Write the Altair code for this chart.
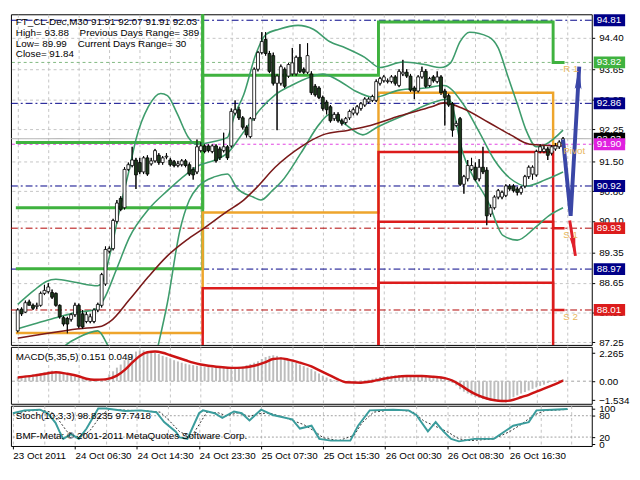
import json
import altair as alt
import pandas as pd

FONT = "Liberation Sans"
W = 592
H_MAIN = 337
H_MACD = 58
H_STO = 41

# ---------------- data ----------------
bar_open = [87.52,88.03,87.96,88.20,88.12,88.09,88.12,88.40,88.44,88.42,
            88.40,88.12,87.83,87.81,87.79,87.90,88.12,87.92,87.74,87.74,
            87.74,88.01,88.12,88.62,89.39,89.45,90.09,90.63,90.41,91.31,
            91.40,91.53,91.47,91.25,91.58,91.44,91.51,91.64,91.47,91.60,
            91.53,91.49,91.40,91.42,91.51,91.42,91.31,91.25,91.75,91.86,
            91.86,91.73,91.86,91.79,91.75,91.84,91.86,92.63,92.71,92.52,
            92.30,92.08,92.50,93.66,94.05,94.36,94.03,93.98,93.33,93.33,
            93.66,93.50,93.55,93.55,93.94,93.66,93.59,93.55,93.26,93.22,
            93.00,92.89,92.78,92.50,92.60,92.45,92.41,92.52,92.63,92.63,
            92.74,92.82,92.89,92.93,92.93,93.33,93.39,93.37,93.37,93.48,
            93.28,93.55,93.59,93.50,93.22,93.15,93.48,93.61,93.28,93.48,
            93.37,93.48,93.15,93.04,92.85,92.34,92.50,90.96,91.09,91.31,
            91.36,91.09,91.36,91.29,90.26,90.41,90.66,90.66,90.70,90.92,
            90.92,90.85,90.77,90.92,91.14,91.20,91.18,91.73,91.73,91.79,
            91.69,91.79,91.84,91.91]
bar_high = [88.05,88.07,88.23,88.25,88.16,88.18,88.44,88.60,88.64,88.49,
            88.42,88.14,87.87,87.85,87.94,88.18,88.16,88.01,87.96,87.92,
            88.05,88.18,88.88,89.50,89.50,90.15,90.59,90.68,91.36,91.47,
            91.84,91.58,91.58,91.62,91.64,91.58,91.79,91.69,91.62,91.69,
            91.58,91.53,91.51,91.55,91.55,91.47,91.36,92.01,91.95,91.90,
            91.90,91.90,91.90,91.84,92.17,91.88,92.74,92.93,92.78,92.56,
            92.34,92.54,93.70,94.09,94.53,94.53,94.09,94.05,93.55,93.77,
            93.70,93.81,94.16,93.98,94.25,93.70,94.27,93.61,93.31,93.26,
            93.04,92.93,92.82,92.65,92.65,92.50,92.54,92.71,92.76,92.82,
            92.89,93.00,93.00,93.06,93.42,93.48,93.52,93.44,93.52,93.52,
            93.66,93.88,93.66,93.55,93.26,93.52,93.72,93.66,93.48,93.52,
            93.61,93.52,93.20,93.09,92.89,92.45,92.54,91.18,91.53,91.58,
            91.47,91.55,91.84,91.36,90.48,90.70,90.85,90.81,90.96,90.96,
            90.96,90.90,90.92,91.18,91.40,91.40,91.77,91.90,91.86,91.84,
            91.88,91.93,91.99,92.07]
bar_low = [87.48,87.87,87.94,88.12,88.01,88.03,88.09,88.36,88.40,88.27,
           88.09,87.81,87.63,87.46,87.74,87.85,87.59,87.57,87.70,87.70,
           87.70,87.96,88.07,88.58,89.34,89.41,90.04,90.33,90.37,91.27,
           91.36,90.85,91.20,91.20,91.16,91.40,91.47,91.42,91.42,91.55,
           91.38,91.36,91.36,91.38,91.36,91.16,91.07,91.20,91.71,91.69,
           91.71,91.69,91.47,91.53,91.71,91.53,91.82,92.58,92.47,92.25,
           92.06,92.04,92.45,93.61,94.01,93.98,93.57,93.28,92.23,93.28,
           93.22,93.46,93.50,93.50,93.57,93.55,93.55,93.06,93.02,92.96,
           92.69,92.60,92.41,92.45,92.41,92.34,92.36,92.47,92.58,92.58,
           92.69,92.78,92.85,92.89,92.89,93.28,93.35,93.33,93.33,93.28,
           93.24,93.50,93.46,93.13,92.96,93.11,93.44,93.22,93.24,93.35,
           93.33,93.06,92.34,92.78,92.08,92.30,90.92,90.74,91.03,91.27,
           91.03,91.03,91.20,90.00,90.20,90.37,90.61,90.61,90.66,90.81,
           90.77,90.70,90.72,90.87,91.09,91.07,91.14,91.69,91.69,91.53,
           91.64,91.75,91.79,91.91]
bar_close = [88.01,87.92,88.18,88.12,88.05,88.12,88.40,88.47,88.55,88.31,
             88.12,87.85,87.68,87.68,87.90,88.12,87.63,87.61,87.90,87.85,
             88.01,88.14,88.84,89.43,89.45,90.11,90.52,90.37,91.31,91.42,
             91.53,91.18,91.25,91.58,91.20,91.51,91.75,91.47,91.58,91.62,
             91.42,91.40,91.44,91.51,91.40,91.20,91.18,91.84,91.86,91.73,
             91.75,91.86,91.51,91.58,91.84,91.58,92.67,92.71,92.52,92.30,
             92.12,92.50,93.66,94.05,94.31,94.03,93.61,93.33,93.50,93.72,
             93.26,93.77,93.81,93.94,93.61,93.59,93.98,93.11,93.06,93.00,
             92.74,92.71,92.45,92.60,92.45,92.39,92.50,92.67,92.71,92.78,
             92.85,92.96,92.96,93.02,93.37,93.44,93.48,93.39,93.48,93.33,
             93.61,93.59,93.50,93.17,93.15,93.48,93.61,93.26,93.44,93.39,
             93.48,93.11,93.00,92.82,92.23,92.39,90.96,91.14,91.40,91.40,
             91.07,91.36,91.25,90.22,90.41,90.66,90.81,90.77,90.92,90.85,
             90.81,90.77,90.87,91.14,91.36,91.36,91.73,91.84,91.79,91.64,
             91.84,91.86,91.95,92.03]

x_tick_labels = ["23 Oct 2011", "24 Oct 06:30", "24 Oct 14:30", "24 Oct 23:30",
                 "25 Oct 07:30", "25 Oct 15:30", "26 Oct 00:30", "26 Oct 08:30",
                 "26 Oct 16:30"]
price_ticks = [94.40, 93.65, 92.95, 92.25, 91.50, 90.80, 90.10, 89.35, 88.65, 87.95, 87.25]

# Bollinger bands and moving average (bar index, price)
bbu_x = [0,4.25,7.5,10,15,21,22.25,24.25,26.75,29.25,31,34.25,37.5,39.25,41.75,44.75,46.75,51.75,55,56.75,
         59.25,62.5,65,68.5,73.5,77.5,81.75,86,91,95,101,106.75,111,113.5,116,118.5,123.5,126,128.5,131,
         133.5,136,138.5,143]
bbu_y = [88.14,88.47,88.68,88.73,88.66,88.58,88.68,89.34,90.37,91.31,92.01,92.78,93.09,93.04,92.63,92.06,91.90,91.97,92.06,92.56,
         93.06,94.03,94.47,94.60,94.69,94.60,94.31,94.16,93.94,93.70,93.83,93.77,93.70,93.81,94.31,94.53,94.42,94.16,93.50,92.85,
         92.19,91.84,91.90,92.23]
bbm_x = [0,4.25,9.25,16,20,22.5,26,29.25,34.25,39.25,44.25,47.5,51.75,55,59.25,63.5,67.5,71.75,76.75,80,
         84.25,88.5,93.5,100,106.75,111.75,116.75,121,125,129.25,133.5,138.5,143]
bbm_y = [87.57,87.68,87.81,87.96,88.01,88.25,88.99,89.71,90.37,90.81,91.20,91.40,91.53,91.69,92.19,92.71,93.06,93.28,93.48,93.55,
         93.39,93.15,93.00,93.17,93.22,93.28,92.85,92.19,91.53,91.09,90.92,91.07,91.25]
bbl_x = [0,8,14.5,21,23.5,26.75,30.5,34.25,36.75,39.25,42.5,45,47.5,51.75,55,57.5,61.75,63.75,66.75,69.25,
         74.25,79.25,81.75,85.5,90.5,94.25,101.75,109.25,113,116.75,123.5,127.25,131,135.5,139.25,143]
bbl_y = [87.00,86.95,87.30,87.52,87.20,86.54,85.99,86.21,87.15,88.18,89.87,90.59,90.92,91.14,91.20,90.87,90.66,90.59,90.81,91.03,
         91.69,92.39,92.60,92.39,92.12,92.30,92.60,92.89,92.96,91.69,90.52,89.76,89.65,89.93,90.22,90.41]
ma_x = [0,7.5,16,22,24.25,29.25,34.25,39.25,44.25,48.5,55,59.25,62.5,67.5,74.25,80,86.75,92.5,100,108.5,
        111.75,116.75,123.5,129.25,134.25,143]
ma_y = [87.35,87.46,87.57,87.63,87.74,88.25,88.79,89.28,89.65,89.91,90.33,90.59,90.87,91.36,91.84,92.12,92.23,92.34,92.56,92.78,
        92.87,92.74,92.41,92.12,91.90,91.86]

# daily pivot levels (one value per day)
day_start = [-0.5, 48.5, 94.6, 140.4]
day_end = 143.4
piv_P = [87.47, 90.30, 93.11, 91.90]
piv_R1 = [88.98, 93.52, 94.77, 93.82]
piv_R2 = [90.41, 95.30, 96.16, 95.79]
piv_R3 = [91.94, 98.52, 97.80, 97.70]
piv_S1 = [86.04, 88.52, 91.72, 89.93]
piv_S2 = [84.53, 85.30, 90.08, 88.01]
piv_S3 = [83.10, 83.52, 88.65, 86.03]

band_levels = [94.81, 92.86, 90.92, 88.97]
resist_level = [93.82]
pivot_level = [91.90]
support_levels = [89.93, 88.01]
last_price = [92.03]
level_names = ["R 1", "Pivot", "S 1", "S 2"]
level_name_values = [93.82, 91.90, 89.93, 88.01]

arrow_up_x = [143, 145, 147.25]
arrow_up_y = [92.01, 90.22, 93.72]
arrow_dn_x = [144.75, 146.25]
arrow_dn_y = [90.11, 89.28]

macd_hist = [0.35,0.40,0.45,0.50,0.55,0.60,0.65,0.72,0.80,0.85,
             0.82,0.75,0.68,0.60,0.48,0.38,0.30,0.24,0.18,0.15,
             0.15,0.16,0.18,0.25,0.55,0.80,1.10,1.35,1.70,1.95,
             2.20,2.40,2.50,2.50,2.45,2.40,2.30,2.20,2.05,1.95,
             1.85,1.70,1.60,1.50,1.42,1.35,1.30,1.25,1.20,1.18,
             1.15,1.12,1.10,1.08,1.06,1.05,1.05,1.08,1.12,1.20,
             1.30,1.40,1.50,1.62,1.80,1.95,2.05,2.10,2.05,1.95,
             1.82,1.72,1.60,1.48,1.35,1.22,1.10,0.98,0.80,0.62,
             0.45,0.30,0.18,0.08,0.02,-0.02,-0.05,-0.05,-0.03,0.00,
             0.04,0.08,0.12,0.20,0.28,0.34,0.38,0.42,0.45,0.48,
             0.50,0.50,0.50,0.48,0.47,0.45,0.43,0.40,0.38,0.35,
             0.30,0.25,0.18,0.05,-0.15,-0.35,-0.65,-0.85,-1.00,-1.15,
             -1.28,-1.36,-1.45,-1.52,-1.58,-1.60,-1.62,-1.60,-1.55,-1.45,
             -1.30,-1.15,-1.00,-0.88,-0.75,-0.62,-0.50,-0.38,-0.28,-0.15,
             -0.05,0.05,0.10,0.151]
sig_x = [0,4,8,10,13,16,18,20,23,26,28,30,32,34,36,38,40,42,44,46,48,50,53,56,59,62,65,67,69,71,
         74,77,79,82,84,86,90,93,96,99,102,106,109,112,114,116,118,120,122,124,126,128,130,132,134,136,138,140,142,143]
sig_y = [0.30,0.45,0.65,0.73,0.60,0.40,0.20,0.12,0.15,0.45,0.90,1.50,2.05,2.35,2.40,2.30,2.10,1.90,1.70,1.50,
         1.35,1.25,1.15,1.08,1.10,1.25,1.55,1.80,1.85,1.75,1.50,1.20,0.90,0.45,0.15,-0.08,-0.12,0.00,0.20,0.35,
         0.42,0.42,0.36,0.25,0.05,-0.30,-0.70,-1.05,-1.30,-1.48,-1.58,-1.60,-1.50,-1.30,-1.10,-0.85,-0.60,-0.35,-0.10,0.049]
stk_x = [0,3,7,9,11,12,13,15,17,19,22,24,29,33,37,39,42,43,45,48,49,52,54,57,59,61,64,67,72,74,
         77,79,82,87,89,92,98,102,104,107,109,111,113,115,119,124,129,133,135,139,143]
stk_y = [87,95,97,87,60,36,15,28,15,44,100,100,93,95,90,62,35,19,15,87,95,87,74,92,87,67,97,82,70,44,
         52,15,10,10,52,95,97,95,82,36,62,36,15,8,15,15,52,62,95,97,98.82]
std_x = [0,3,7,10,12,14,16,18,20,23,25,30,34,38,40,43,46,48,50,53,55,58,61,63,66,70,75,78,80,84,
         88,90,93,98,103,106,109,112,115,118,124,128,131,134,137,143]
std_y = [85,92,96,90,65,35,22,22,40,85,98,95,94,90,70,35,20,55,90,88,80,88,78,85,88,75,55,35,18,10,
         25,60,90,97,92,65,50,35,15,10,15,35,55,80,94,97.74]

# ---------------- styles ----------------
GREEN = "#3fb23f"
ORANGE = "#eea52c"
RED = "#dc1c1c"
NAVY = "#000088"
BB_COL = "#3e9c6c"
MA_COL = "#7a1a1a"
GRID = "#c4c4c4"

xscale = alt.Scale(domain=[-0.5, 149.25], nice=False, zero=False)
grid_vals = list(range(0, 145, 8))
plain_xaxis = alt.Axis(values=grid_vals, labels=False, ticks=False, domain=False, grid=True,
                       gridColor=GRID, gridDash=[3, 3], title=None, zindex=0)


def xenc(field, axis=plain_xaxis):
    return alt.X(field, type="quantitative", scale=xscale, axis=axis)


main_yscale = alt.Scale(domain=[87.19, 94.95], nice=False, zero=False)
main_yaxis = alt.Axis(orient="right", values=price_ticks, format=".2f", grid=True, gridColor=GRID,
                      gridDash=[3, 3], tickSize=3, tickColor="black", domain=False, labelFont=FONT,
                      labelFontSize=10, labelColor="black", labelPadding=4, labelOverlap=False,
                      labelBound=False, labelFlush=False, title=None, zindex=0)


def ym(field):
    return alt.Y(field, type="quantitative", scale=main_yscale, axis=main_yaxis)


def text_at(txt, x, y, color="black", size=10, align="left"):
    return alt.Chart(pd.DataFrame({"t": [txt]})).mark_text(
        align=align, baseline="middle", font=FONT, fontSize=size, color=color
    ).encode(x=alt.value(x), y=alt.value(y), text="t:N")


# ---------------- main panel ----------------
candles = pd.DataFrame({"i": list(range(len(bar_close))), "open": bar_open, "high": bar_high,
                        "low": bar_low, "close": bar_close})
candles["dir"] = ["up" if c >= o else "down" for o, c in zip(bar_open, bar_close)]

wicks = alt.Chart(candles).mark_rule(color="black", strokeWidth=1).encode(
    x=xenc("i"), y=ym("low"), y2="high")
bodies = alt.Chart(candles).mark_bar(size=3, stroke="black", strokeWidth=0.8).encode(
    x=xenc("i"), y=ym("open"), y2="close",
    fill=alt.Fill("dir:N", scale=alt.Scale(domain=["up", "down"], range=["white", "#1d3a1d"]), legend=None))


def step_df(series):
    rows = []
    for name, vals in series:
        for d, v in enumerate(vals):
            rows.append({"s": name, "i": day_start[d], "v": v, "o": d})
        rows.append({"s": name, "i": day_end, "v": vals[-1], "o": len(vals)})
    return pd.DataFrame(rows)


def step_layer(series, color, width):
    return alt.Chart(step_df(series)).mark_line(
        interpolate="step-after", clip=True, color=color, strokeWidth=width
    ).encode(x=xenc("i"), y=ym("v"), detail="s:N", order="o:Q")


greens = step_layer([("R1", piv_R1), ("R2", piv_R2), ("R3", piv_R3)], GREEN, 3)
oranges = step_layer([("P", piv_P)], ORANGE, 2.5)
reds = step_layer([("S1", piv_S1), ("S2", piv_S2), ("S3", piv_S3)], RED, 2.5)


def rule_layer(vals, color, dash, width=1):
    return alt.Chart(pd.DataFrame({"v": vals})).mark_rule(
        color=color, strokeDash=dash, strokeWidth=width).encode(y=ym("v"))


lvl_navy = rule_layer(band_levels, NAVY, [7, 3, 2, 3])
lvl_red = rule_layer(support_levels, "#b00000", [7, 3, 2, 3])
lvl_mag = rule_layer(pivot_level, "#e040e0", [3, 3])
lvl_green = rule_layer(resist_level, "#7fb87f", [3, 3])
lvl_last = rule_layer(last_price, "#a8a8a8", [1, 0])

bb_rows = ([{"b": "u", "i": a, "v": b} for a, b in zip(bbu_x, bbu_y)] +
           [{"b": "m", "i": a, "v": b} for a, b in zip(bbm_x, bbm_y)] +
           [{"b": "l", "i": a, "v": b} for a, b in zip(bbl_x, bbl_y)])
bbands = alt.Chart(pd.DataFrame(bb_rows)).mark_line(
    clip=True, color=BB_COL, strokeWidth=1.6, interpolate="monotone"
).encode(x=xenc("i"), y=ym("v"), detail="b:N")
ma_line = alt.Chart(pd.DataFrame({"i": ma_x, "v": ma_y})).mark_line(
    clip=True, color=MA_COL, strokeWidth=1.6, interpolate="monotone"
).encode(x=xenc("i"), y=ym("v"))

HEAD = "M0,0L0.3,2L0,1.6L-0.3,2Z"
up_df = pd.DataFrame({"i": arrow_up_x, "v": arrow_up_y, "o": list(range(len(arrow_up_x)))})
dn_df = pd.DataFrame({"i": arrow_dn_x, "v": arrow_dn_y, "o": list(range(len(arrow_dn_x)))})
arrow_up = alt.Chart(up_df).mark_line(color="#3a46a6", strokeWidth=4).encode(
    x=xenc("i"), y=ym("v"), order="o:Q")
arrow_up_head = alt.Chart(up_df.tail(1)).mark_point(
    shape=HEAD, filled=True, size=529, angle=3, color="#3a46a6", opacity=1).encode(x=xenc("i"), y=ym("v"))
arrow_dn = alt.Chart(dn_df).mark_line(color="#e0202a", strokeWidth=3).encode(
    x=xenc("i"), y=ym("v"), order="o:Q")
arrow_dn_head = alt.Chart(dn_df.tail(1)).mark_point(
    shape=HEAD, filled=True, size=400, angle=171, color="#e0202a", opacity=1).encode(x=xenc("i"), y=ym("v"))

name_df = pd.DataFrame({"n": level_names, "v": level_name_values})
level_texts = alt.Chart(name_df).mark_text(
    align="left", baseline="middle", dy=7, font=FONT, fontSize=10, color="#e8b860"
).encode(x=alt.value(W - 29), y=ym("v"), text="n:N")


def box_layers(vals, colors):
    layers = []
    for v, col in zip(vals, colors):
        df = pd.DataFrame({"v": [v], "lab": ["%.2f" % v]})
        layers.append(alt.Chart(df).mark_rect(yOffset=-6, y2Offset=6, color=col).encode(
            x=alt.value(W + 2), x2=alt.value(W + 34), y=ym("v"), y2="v"))
        layers.append(alt.Chart(df).mark_text(
            align="left", baseline="middle", font=FONT, fontSize=10, color="white"
        ).encode(x=alt.value(W + 5), y=ym("v"), text="lab:N"))
    return layers


box_list = box_layers(
    last_price + band_levels + resist_level + pivot_level + support_levels,
    ["#000000", NAVY, NAVY, NAVY, NAVY, GREEN, "#e020e0", RED, RED])

main_texts = [
    text_at("FT_CL-Dec,M30  91.91 92.07 91.91 92.03", 5, 8),
    text_at("High= 93.88", 5, 19),
    text_at("Previous Days Range= 389", 70, 19),
    text_at("Low= 89.99", 5, 30),
    text_at("Current Days Range= 30", 68, 30),
    text_at("Close= 91.84", 5, 41),
]

main = alt.layer(
    wicks, lvl_last, lvl_navy, lvl_red, lvl_mag, lvl_green,
    greens, oranges, reds, bbands, ma_line, wicks, bodies,
    arrow_up, arrow_up_head, arrow_dn, arrow_dn_head, level_texts,
    *box_list, *main_texts
).properties(width=W, height=H_MAIN)

# ---------------- MACD panel ----------------
macd_yscale = alt.Scale(domain=[-1.83, 2.78], nice=False, zero=False)
macd_yaxis = alt.Axis(orient="right", values=[2.265, 0, -1.534],
                      labelExpr="datum.value == 0 ? '0.00' : format(datum.value, '.3f')",
                      grid=False, tickSize=3, tickColor="black", domain=False, labelFont=FONT,
                      labelFontSize=10, labelColor="black", labelPadding=4, labelOverlap=False,
                      labelBound=False, labelFlush=False, title=None)


def ymacd(field):
    return alt.Y(field, type="quantitative", scale=macd_yscale, axis=macd_yaxis)


macd_df = pd.DataFrame({"i": list(range(len(macd_hist))), "h": macd_hist})
hist = alt.Chart(macd_df).mark_bar(size=2, color="#bdbdbd").encode(
    x=xenc("i"), y=ymacd("h"), y2=alt.datum(0))
zero_rule = alt.Chart(pd.DataFrame({"v": [0]})).mark_rule(
    color="#a0a0a0", strokeDash=[3, 3]).encode(y=ymacd("v"))
sig = alt.Chart(pd.DataFrame({"i": sig_x, "v": sig_y})).mark_line(
    color="#cc1414", strokeWidth=2.5, interpolate="monotone").encode(x=xenc("i"), y=ymacd("v"))
macd = alt.layer(zero_rule, hist, sig, text_at("MACD(5,35,5) 0.151 0.049", 5, 10)).properties(
    width=W, height=H_MACD)

# ---------------- Stochastic panel ----------------
label_expr = ("(datum.value % 16 == 0 && datum.value < 144) ? " + json.dumps(x_tick_labels) +
              "[datum.value / 16] : ''")
bottom_xaxis = alt.Axis(values=grid_vals, labelExpr=label_expr, labelAlign="left", labelPadding=2,
                        tickSize=3,
                        tickColor={"condition": {"test": "datum.value % 16 == 0 && datum.value < 144",
                                                 "value": "black"}, "value": "transparent"},
                        domain=False, grid=True, gridColor=GRID, gridDash=[3, 3], labelFont=FONT,
                        labelFontSize=10, labelColor="black", labelOverlap=False, labelBound=False,
                        labelFlush=False, title=None, zindex=0)
sto_yscale = alt.Scale(domain=[-5, 108], nice=False, zero=False)
sto_yaxis = alt.Axis(orient="right", values=[100, 80, 20, 0], grid=False, tickSize=3, tickColor="black",
                     domain=False, labelFont=FONT, labelFontSize=10, labelColor="black", labelPadding=4,
                     labelOverlap=False, labelBound=False, labelFlush=False, title=None)


def ysto(field):
    return alt.Y(field, type="quantitative", scale=sto_yscale, axis=sto_yaxis)


sto_levels = alt.Chart(pd.DataFrame({"v": [80, 20]})).mark_rule(
    color="#a0a0a0", strokeDash=[2, 2]).encode(y=ysto("v"))
stk = alt.Chart(pd.DataFrame({"i": stk_x, "v": stk_y})).mark_line(
    color="#3a9c9c", strokeWidth=2).encode(x=xenc("i", bottom_xaxis), y=ysto("v"))
std = alt.Chart(pd.DataFrame({"i": std_x, "v": std_y})).mark_line(
    color="#303030", strokeWidth=1, strokeDash=[2, 2]).encode(x=xenc("i", bottom_xaxis), y=ysto("v"))
sto = alt.layer(
    sto_levels, std, stk,
    text_at("Stoch(10,3,3) 98.8235 97.7418", 5, 11),
    text_at("BMF-Meta: \u00a9 2001-2011 MetaQuotes Software Corp.", 5, 31),
).properties(width=W, height=H_STO)

chart = alt.vconcat(main, macd, sto, spacing=2, bounds="flush").properties(
    padding={"left": 0, "top": 1, "right": 2, "bottom": 0}, background="white"
).configure_view(stroke="black", strokeWidth=1)

chart.save("out.html", embed_options={"renderer": "svg", "actions": False})
